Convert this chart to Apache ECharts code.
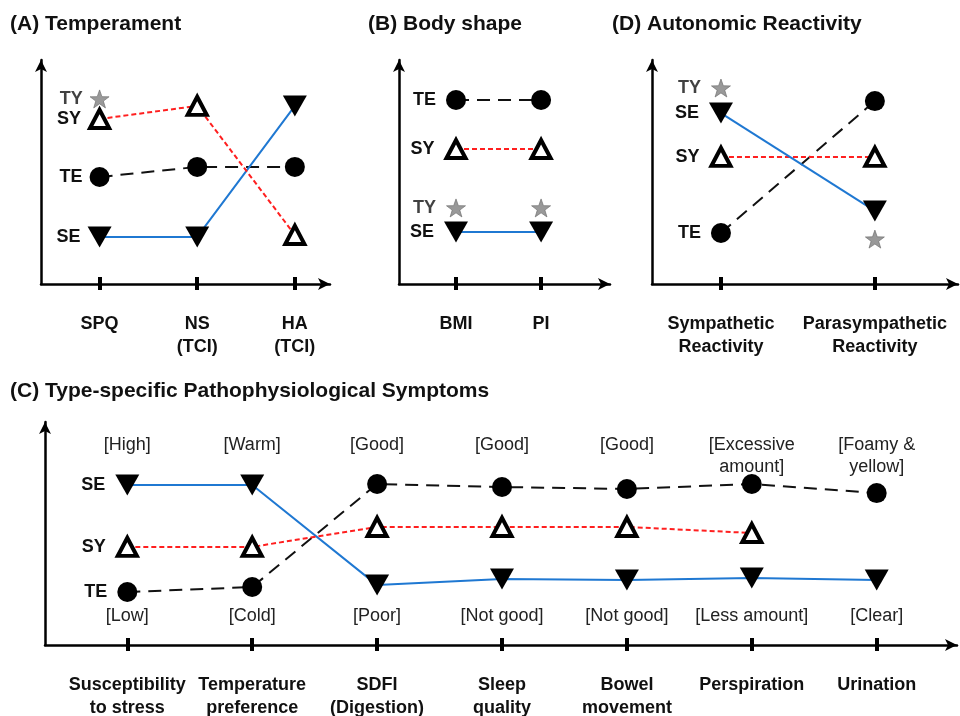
<!DOCTYPE html>
<html><head><meta charset="utf-8">
<script src="https://cdn.jsdelivr.net/npm/echarts@6/dist/echarts.min.js"></script>
<style>html,body{margin:0;padding:0;background:#fff}#c{width:960px;height:716px}</style>
</head><body><div id="c"></div>
<script>
// ---------- DATA ----------
const catsA = ['SPQ', 'NS\n(TCI)', 'HA\n(TCI)'];
const A_TY = [84.9];
const A_SY = [75.7, 81.7, 22.5];
const A_TE = [49.1, 53.7, 53.7];
const A_SE = [21.6, 21.6, 81.7];

const catsB = ['BMI', 'PI'];
const B_TE = [84.4, 84.4];
const B_SY = [61.9, 61.9];
const B_TY = [34.9, 34.9];
const B_SE = [23.9, 23.9];

const catsD = ['Sympathetic\nReactivity', 'Parasympathetic\nReactivity'];
const D_TY = [89.9, 20.6];
const D_SE = [78.4, 33.5];
const D_SY = [58.3, 58.3];
const D_TE = [23.4, 83.9];

const catsC = ['Susceptibility\nto stress', 'Temperature\npreference', 'SDFI\n(Digestion)', 'Sleep\nquality', 'Bowel\nmovement', 'Perspiration', 'Urination'];
const highC = ['[High]', '[Warm]', '[Good]', '[Good]', '[Good]', '[Excessive\namount]', '[Foamy &\nyellow]'];
const lowC = ['[Low]', '[Cold]', '[Poor]', '[Not good]', '[Not good]', '[Less amount]', '[Clear]'];
const C_SE = [73.7, 73.7, 27.6, 30.4, 30.0, 30.9, 30.0];
const C_SY = [45.2, 45.2, 54.4, 54.4, 54.4, 51.6];
const C_TE = [24.4, 26.7, 74.2, 72.8, 71.9, 74.2, 70.0];

const titles = ['(A) Temperament', '(B) Body shape', '(D) Autonomic Reactivity', '(C) Type-specific Pathophysiological Symptoms'];

// ---------- LAYOUT / STYLE ----------
const FONT = '"Liberation Sans", Arial, Helvetica, sans-serif';
const STAR = 'path://M50,0 L61.76,33.82 L97.55,34.55 L69.02,56.18 L79.39,90.45 L50,70 L20.61,90.45 L30.98,56.18 L2.45,34.55 L38.24,33.82 Z';
const Y_MAX = 102.75;

const STYLE = {
  TE: { type: 'line', symbol: 'circle', symbolSize: 20, itemStyle: { color: '#000' }, lineStyle: { color: '#111', width: 2, type: [13, 8] } },
  SY: { type: 'line', symbol: 'triangle', symbolSize: [19, 18], itemStyle: { color: '#fff', borderColor: '#000', borderWidth: 4 }, lineStyle: { color: '#ff1f1f', width: 2, type: [5, 3] } },
  SE: { type: 'line', symbol: 'triangle', symbolRotate: 180, symbolSize: [24, 21], itemStyle: { color: '#000' }, lineStyle: { color: '#1f78d2', width: 2 } },
  TY: { type: 'scatter', symbol: STAR, symbolSize: [19, 18], itemStyle: { color: '#7f7f7f', borderColor: '#6a6a6a', borderWidth: 0.8 } }
};

const panels = [
  { grid: { left: 41, top: 60, width: 289, height: 224 }, min: -0.6, max: 2.36, cats: catsA, dist: 7,
    series: [['TE', A_TE], ['SE', A_SE], ['SY', A_SY], ['TY', A_TY]] },
  { grid: { left: 399, top: 60, width: 211, height: 224 }, min: -0.67, max: 1.81, cats: catsB, dist: 10,
    series: [['TE', B_TE], ['SY', B_SY], ['SE', B_SE], ['TY', B_TY]] },
  { grid: { left: 652, top: 60, width: 306, height: 224 }, min: -0.448, max: 1.54, cats: catsD, dist: 10,
    series: [['TE', D_TE], ['SY', D_SY], ['SE', D_SE], ['TY', D_TY]] },
  { grid: { left: 45, top: 422, width: 912, height: 223 }, min: -0.659, max: 6.643, cats: catsC, dist: 10,
    high: highC, low: lowC,
    series: [['TE', C_TE], ['SE', C_SE], ['SY', C_SY]] }
];

const axisLineStyle = { color: '#000', width: 2.5 };
const grids = [], xAxes = [], yAxes = [], series = [];

panels.forEach((p, gi) => {
  grids.push(Object.assign({ outerBoundsMode: 'none', containLabel: false }, p.grid));
  const idx = p.cats.map((_, i) => i);
  const mainIndex = xAxes.length;
  xAxes.push({
    type: 'value', gridIndex: gi, min: p.min, max: p.max, position: 'bottom',
    splitLine: { show: false },
    axisLine: { show: true, onZero: false, symbol: ['none', 'arrow'], symbolSize: [9, 12], lineStyle: axisLineStyle },
    axisTick: { show: true, customValues: idx, length: 6, lineStyle: { color: '#000', width: 4 } },
    axisLabel: { show: true, customValues: idx, formatter: v => p.cats[Math.round(v)], margin: 29,
      fontSize: 18, fontWeight: 'bold', color: '#111', lineHeight: 23, fontFamily: FONT, hideOverlap: false }
  });
  xAxes.push({
    type: 'value', gridIndex: gi, min: p.min, max: p.max, position: 'bottom',
    splitLine: { show: false }, axisLine: { show: false, onZero: false },
    axisTick: { show: true, inside: true, customValues: idx, length: 7, lineStyle: { color: '#000', width: 4 } },
    axisLabel: p.low ? { show: true, inside: true, customValues: idx, formatter: v => p.low[Math.round(v)], margin: 20,
      fontSize: 18, color: '#222', fontFamily: FONT, hideOverlap: false } : { show: false }
  });
  if (p.high) {
    xAxes.push({
      type: 'value', gridIndex: gi, min: p.min, max: p.max, position: 'top',
      splitLine: { show: false }, axisLine: { show: false, onZero: false }, axisTick: { show: false },
      axisLabel: { show: true, inside: true, customValues: idx, formatter: v => p.high[Math.round(v)], margin: 12,
        fontSize: 18, lineHeight: 22, color: '#222', fontFamily: FONT, hideOverlap: false }
    });
  }
  yAxes.push({
    type: 'value', gridIndex: gi, min: 0, max: Y_MAX,
    axisLine: { show: true, onZero: false, symbol: ['none', 'arrow'], symbolSize: [9, 12], lineStyle: axisLineStyle },
    axisTick: { show: false }, axisLabel: { show: false }, splitLine: { show: false }
  });
  p.series.forEach(([name, vals]) => {
    const st = STYLE[name];
    const data = vals.map((v, i) => i === 0 ? {
      value: [i, v],
      label: { show: true, position: 'left', distance: p.dist, formatter: name, fontSize: 18, fontWeight: 'bold', color: '#111', fontFamily: FONT }
    } : [i, v]);
    series.push(Object.assign({
      name: name, xAxisIndex: mainIndex, yAxisIndex: gi, data: data,
      showSymbol: true, showAllSymbol: true, silent: true, animation: false,
      emphasis: { disabled: true }
    }, st));
  });
});

const titlePos = [[10, 14], [368, 14], [612, 14], [10, 381]];
const chart = echarts.init(document.getElementById('c'), null, { renderer: 'canvas' });
chart.setOption({
  backgroundColor: '#fff',
  animation: false,
  title: titles.map((t, i) => ({ text: t, left: titlePos[i][0], top: titlePos[i][1], padding: 0,
    textStyle: { fontSize: 21, fontWeight: 'bold', color: '#111', fontFamily: FONT } })),
  grid: grids, xAxis: xAxes, yAxis: yAxes, series: series
});
</script></body></html>
